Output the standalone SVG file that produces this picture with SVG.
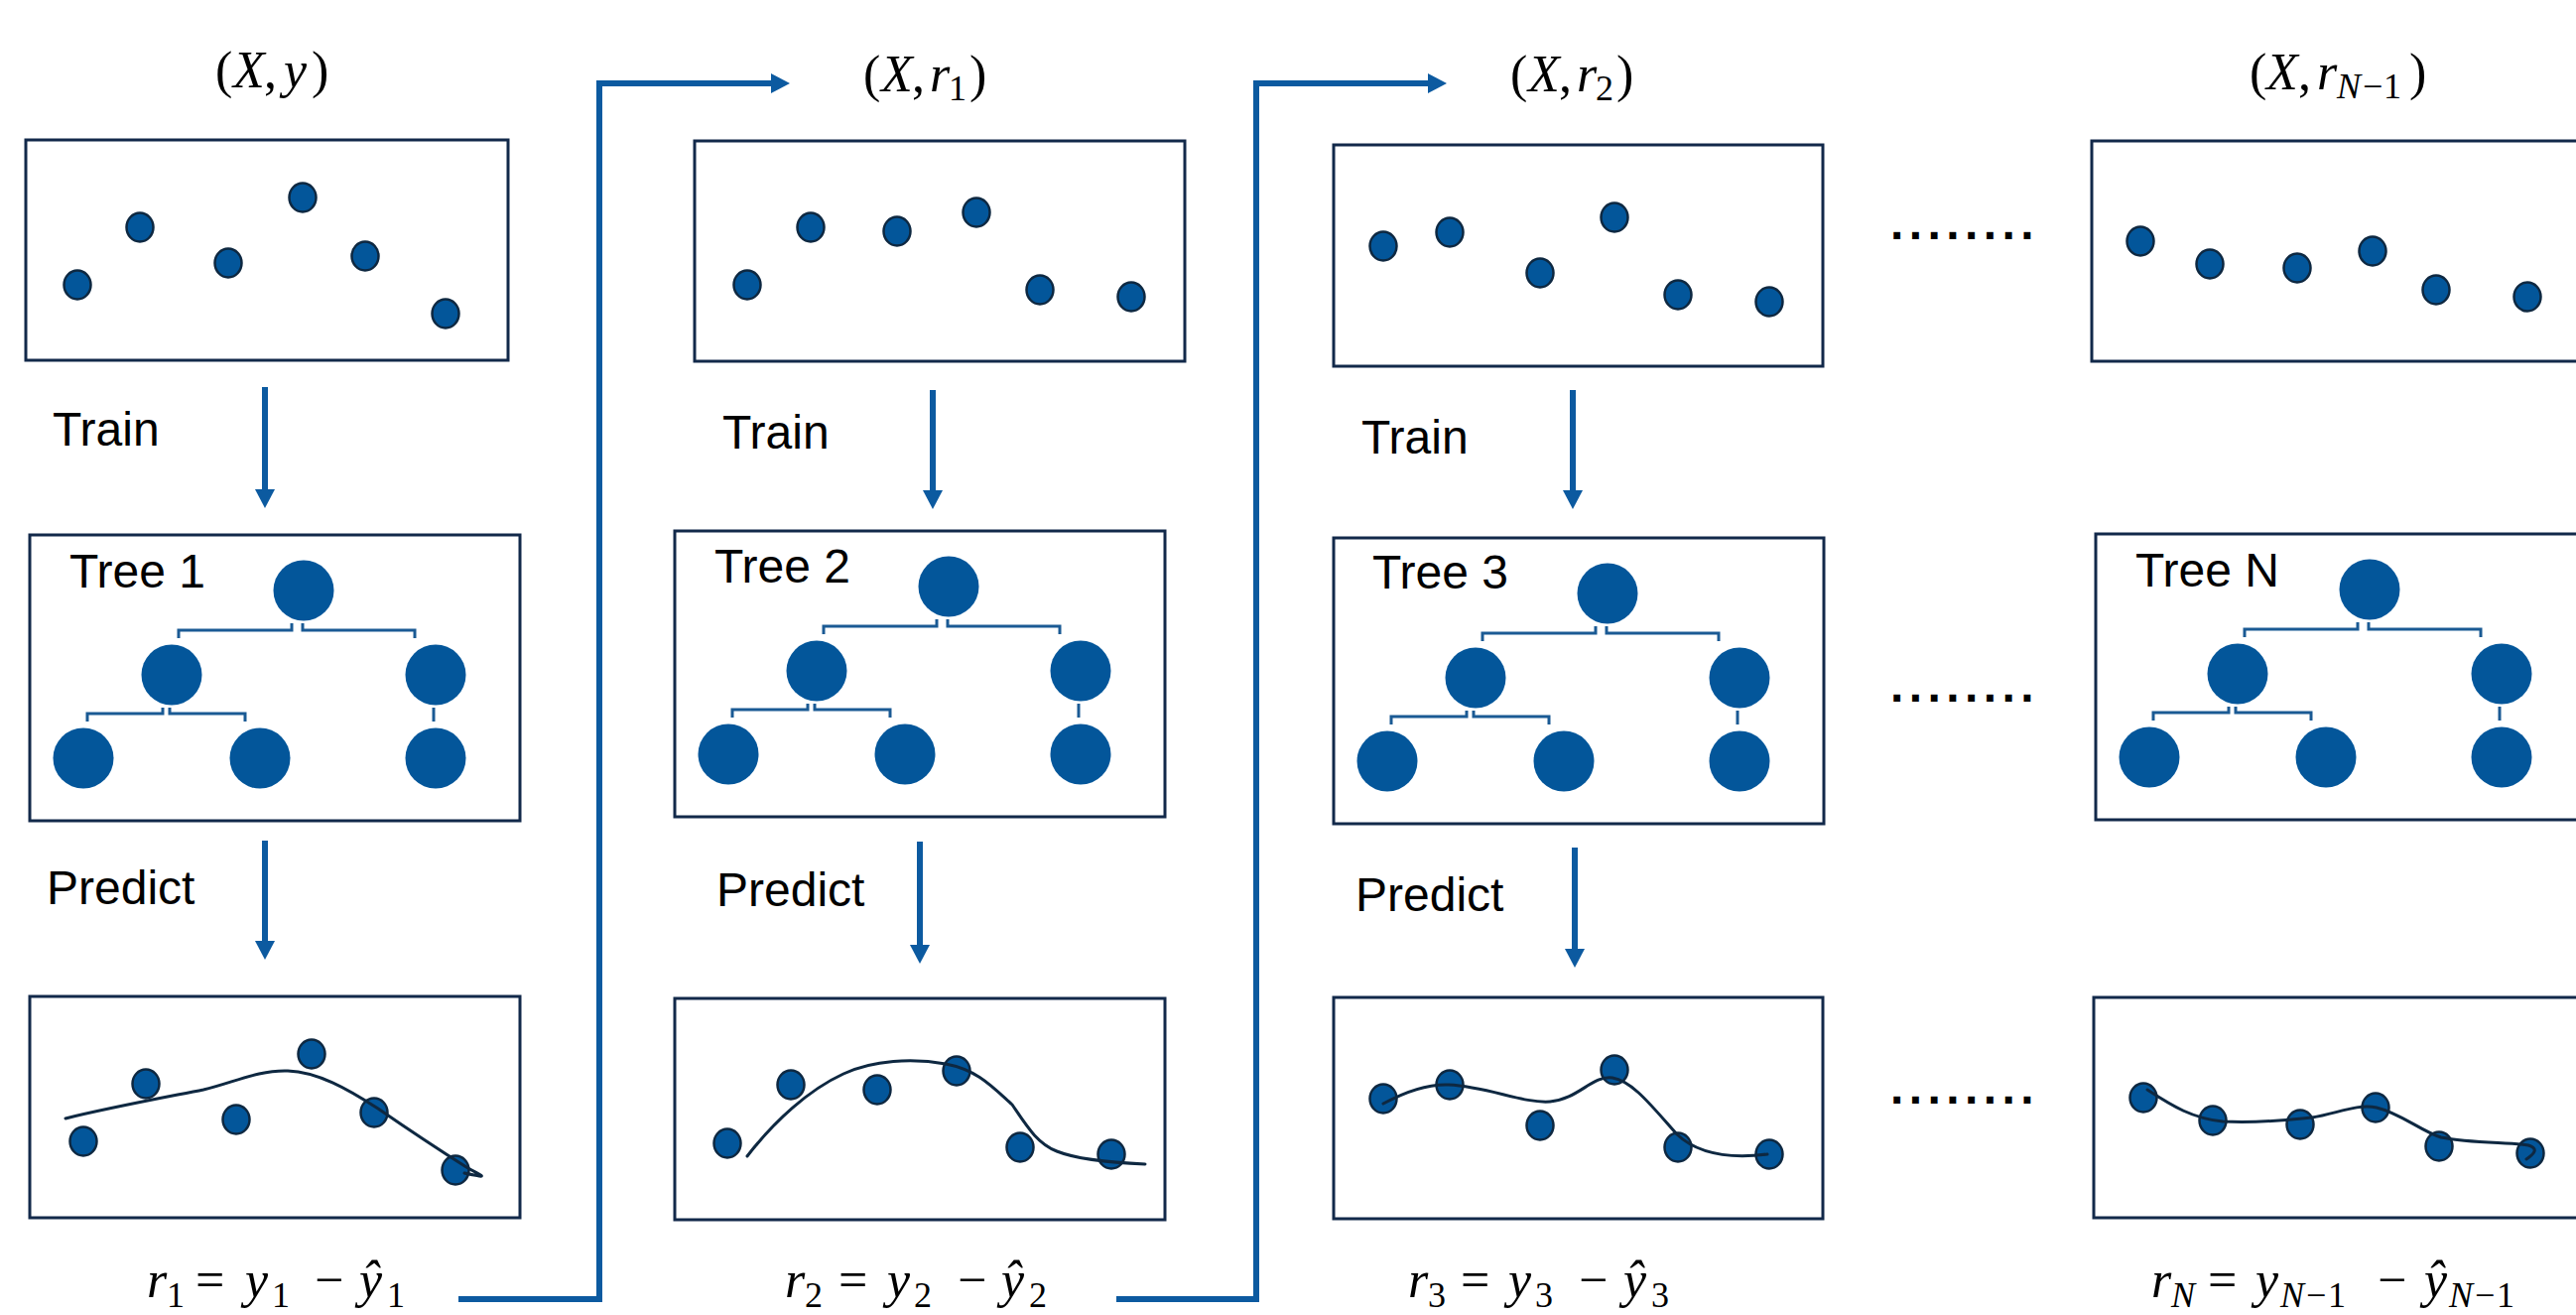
<svg xmlns="http://www.w3.org/2000/svg" xmlns:xlink="http://www.w3.org/1999/xlink" width="2596" height="1325" viewBox="0 0 2596 1325">
<style>
  .box{fill:#ffffff;stroke:#12294a;stroke-width:3}
  .pt{fill:#03569a;stroke:#0e2841;stroke-width:2.5}
  .node{fill:#03569a}
  .br{fill:none;stroke:#1a5a94;stroke-width:3}
  .fit{fill:none;stroke:#0e2841;stroke-width:3;stroke-linecap:round}
  .conn{fill:none;stroke:#0c5aa0;stroke-width:6;stroke-linejoin:miter}
  .lbl{font-family:'Liberation Sans',Arial,sans-serif;font-size:48px;fill:#000000}
  .math{font-family:'Liberation Serif','Times New Roman',serif;font-size:52px;fill:#000000}
  .i{font-style:italic}
  .sub{font-size:36px}
  .dots{font-family:'Liberation Sans',Arial,sans-serif;font-size:48px;font-weight:bold;letter-spacing:5.4px;fill:#000000}
</style>
<defs>
  <marker id="ah" markerUnits="userSpaceOnUse" markerWidth="20" markerHeight="20" refX="0" refY="10" orient="auto">
    <path d="M0,0 L19,10 L0,20 z" fill="#0c5aa0"/>
  </marker>
  <g id="treeArt">
    <rect class="box" x="0" y="0" width="494" height="288"/>
    <path class="br" d="M150,104 V96 H264 V89"/>
    <path class="br" d="M275,89 V96 H388 V104"/>
    <path class="br" d="M58,188 V180 H134 V174"/>
    <path class="br" d="M141,174 V180 H217 V188"/>
    <path class="br" d="M407,174 V188"/>
    <circle class="node" cx="276" cy="56" r="30.5"/>
    <circle class="node" cx="143" cy="141" r="30.5"/>
    <circle class="node" cx="409" cy="141" r="30.5"/>
    <circle class="node" cx="54" cy="225" r="30.5"/>
    <circle class="node" cx="232" cy="225" r="30.5"/>
    <circle class="node" cx="409" cy="225" r="30.5"/>
  </g>
</defs>

<rect width="2596" height="1325" fill="#ffffff"/>

<!-- connectors -->
<g id="connectors">
  <path class="conn" d="M267,390 V493" marker-end="url(#ah)"/>
  <path class="conn" d="M267,847 V948" marker-end="url(#ah)"/>
  <path class="conn" d="M940,393 V494" marker-end="url(#ah)"/>
  <path class="conn" d="M927,848 V952" marker-end="url(#ah)"/>
  <path class="conn" d="M1585,393 V494" marker-end="url(#ah)"/>
  <path class="conn" d="M1587,854 V956" marker-end="url(#ah)"/>
  <path class="conn" d="M462,1309 H604 V84 H777" marker-end="url(#ah)"/>
  <path class="conn" d="M1125,1309 H1266 V84 H1439" marker-end="url(#ah)"/>
</g>

<!-- headings -->
<g id="head-1"><text class="math" y="88"><tspan x="217">(</tspan><tspan class="i" x="235">X</tspan><tspan x="266">,</tspan><tspan class="i" x="286">y</tspan><tspan x="314">)</tspan></text></g>
<g id="head-2"><text class="math" y="92"><tspan x="870">(</tspan><tspan class="i" x="888">X</tspan><tspan x="919">,</tspan><tspan class="i" x="937">r</tspan><tspan class="sub" x="956" dy="9">1</tspan><tspan x="977" dy="-9">)</tspan></text></g>
<g id="head-3"><text class="math" y="92"><tspan x="1522">(</tspan><tspan class="i" x="1540">X</tspan><tspan x="1571">,</tspan><tspan class="i" x="1589">r</tspan><tspan class="sub" x="1608" dy="9">2</tspan><tspan x="1629" dy="-9">)</tspan></text></g>
<g id="head-N"><text class="math" y="90"><tspan x="2267">(</tspan><tspan class="i" x="2284">X</tspan><tspan x="2316">,</tspan><tspan class="i" x="2335">r</tspan><tspan class="sub i" x="2355" dy="9">N</tspan><tspan class="sub" x="2381">−</tspan><tspan class="sub" x="2402">1</tspan><tspan x="2428" dy="-9">)</tspan></text></g>

<!-- column 1 -->
<g id="data-1">
  <rect class="box" x="26" y="141" width="486" height="222"/>
  <ellipse class="pt" cx="78" cy="287" rx="13.5" ry="14.5"/>
  <ellipse class="pt" cx="141" cy="229" rx="13.5" ry="14.5"/>
  <ellipse class="pt" cx="230" cy="265" rx="13.5" ry="14.5"/>
  <ellipse class="pt" cx="305" cy="199" rx="13.5" ry="14.5"/>
  <ellipse class="pt" cx="368" cy="258" rx="13.5" ry="14.5"/>
  <ellipse class="pt" cx="449" cy="316" rx="13.5" ry="14.5"/>
</g>
<g id="train-1"><text class="lbl" x="53" y="449">Train</text></g>
<g id="tree-1">
  <use xlink:href="#treeArt" href="#treeArt" x="30" y="539"/>
  <text class="lbl" x="70" y="592">Tree 1</text>
</g>
<g id="predict-1"><text class="lbl" x="47" y="911">Predict</text></g>
<g id="pred-1">
  <rect class="box" x="30" y="1004" width="494" height="223"/>
  <ellipse class="pt" cx="84" cy="1150" rx="13.5" ry="14.5"/>
  <ellipse class="pt" cx="147" cy="1092" rx="13.5" ry="14.5"/>
  <ellipse class="pt" cx="238" cy="1128" rx="13.5" ry="14.5"/>
  <ellipse class="pt" cx="314" cy="1062" rx="13.5" ry="14.5"/>
  <ellipse class="pt" cx="377" cy="1121" rx="13.5" ry="14.5"/>
  <ellipse class="pt" cx="459" cy="1179" rx="13.5" ry="14.5"/>
  <path class="fit" d="M66,1127 C110,1116 170,1105 205,1098 C235,1091 260,1078 290,1079 C320,1080 350,1097 381,1117 C410,1137 440,1157 470,1176 C480,1182 490,1186 483,1185 C478,1184 472,1183 468,1182"/>
</g>
<g id="res-1"><text class="math" y="1307"><tspan class="i" x="148">r</tspan><tspan class="sub" x="168" dy="10">1</tspan><tspan x="197" dy="-10">=</tspan><tspan class="i" x="247">y</tspan><tspan class="sub" x="274" dy="10">1</tspan><tspan x="317" dy="-10">−</tspan><tspan class="i" x="362">ŷ</tspan><tspan class="sub" x="390" dy="10">1</tspan></text></g>

<!-- column 2 -->
<g id="data-2">
  <rect class="box" x="700" y="142" width="494" height="222"/>
  <ellipse class="pt" cx="753" cy="287" rx="13.5" ry="14.5"/>
  <ellipse class="pt" cx="817" cy="229" rx="13.5" ry="14.5"/>
  <ellipse class="pt" cx="904" cy="233" rx="13.5" ry="14.5"/>
  <ellipse class="pt" cx="984" cy="214" rx="13.5" ry="14.5"/>
  <ellipse class="pt" cx="1048" cy="292" rx="13.5" ry="14.5"/>
  <ellipse class="pt" cx="1140" cy="299" rx="13.5" ry="14.5"/>
</g>
<g id="train-2"><text class="lbl" x="728" y="452">Train</text></g>
<g id="tree-2">
  <use xlink:href="#treeArt" href="#treeArt" x="680" y="535"/>
  <text class="lbl" x="720" y="587">Tree 2</text>
</g>
<g id="predict-2"><text class="lbl" x="722" y="913">Predict</text></g>
<g id="pred-2">
  <rect class="box" x="680" y="1006" width="494" height="223"/>
  <ellipse class="pt" cx="733" cy="1152" rx="13.5" ry="14.5"/>
  <ellipse class="pt" cx="797" cy="1093" rx="13.5" ry="14.5"/>
  <ellipse class="pt" cx="884" cy="1098" rx="13.5" ry="14.5"/>
  <ellipse class="pt" cx="964" cy="1079" rx="13.5" ry="14.5"/>
  <ellipse class="pt" cx="1028" cy="1156" rx="13.5" ry="14.5"/>
  <ellipse class="pt" cx="1120" cy="1163" rx="13.5" ry="14.5"/>
  <path class="fit" d="M753,1165 C780,1130 815,1098 850,1082 C880,1068 920,1066 953,1072 C985,1078 1000,1095 1020,1113 C1035,1135 1045,1152 1065,1160 C1090,1170 1130,1172 1154,1173"/>
</g>
<g id="res-2"><text class="math" y="1307"><tspan class="i" x="791">r</tspan><tspan class="sub" x="811" dy="10">2</tspan><tspan x="845" dy="-10">=</tspan><tspan class="i" x="894">y</tspan><tspan class="sub" x="921" dy="10">2</tspan><tspan x="965" dy="-10">−</tspan><tspan class="i" x="1009">ŷ</tspan><tspan class="sub" x="1037" dy="10">2</tspan></text></g>

<!-- column 3 -->
<g id="data-3">
  <rect class="box" x="1344" y="146" width="493" height="223"/>
  <ellipse class="pt" cx="1394" cy="248" rx="13.5" ry="14.5"/>
  <ellipse class="pt" cx="1461" cy="234" rx="13.5" ry="14.5"/>
  <ellipse class="pt" cx="1552" cy="275" rx="13.5" ry="14.5"/>
  <ellipse class="pt" cx="1627" cy="219" rx="13.5" ry="14.5"/>
  <ellipse class="pt" cx="1691" cy="297" rx="13.5" ry="14.5"/>
  <ellipse class="pt" cx="1783" cy="304" rx="13.5" ry="14.5"/>
</g>
<g id="train-3"><text class="lbl" x="1372" y="457">Train</text></g>
<g id="tree-3">
  <use xlink:href="#treeArt" href="#treeArt" x="1344" y="542"/>
  <text class="lbl" x="1383" y="593">Tree 3</text>
</g>
<g id="predict-3"><text class="lbl" x="1366" y="918">Predict</text></g>
<g id="pred-3">
  <rect class="box" x="1344" y="1005" width="493" height="223"/>
  <ellipse class="pt" cx="1394" cy="1107" rx="13.5" ry="14.5"/>
  <ellipse class="pt" cx="1461" cy="1093" rx="13.5" ry="14.5"/>
  <ellipse class="pt" cx="1552" cy="1134" rx="13.5" ry="14.5"/>
  <ellipse class="pt" cx="1627" cy="1078" rx="13.5" ry="14.5"/>
  <ellipse class="pt" cx="1691" cy="1156" rx="13.5" ry="14.5"/>
  <ellipse class="pt" cx="1783" cy="1163" rx="13.5" ry="14.5"/>
  <path class="fit" d="M1394,1112 C1420,1098 1440,1092 1460,1093 C1500,1095 1535,1112 1562,1110 C1590,1108 1605,1083 1625,1086 C1645,1089 1665,1115 1690,1143 C1710,1162 1740,1168 1781,1163"/>
</g>
<g id="res-3"><text class="math" y="1307"><tspan class="i" x="1419">r</tspan><tspan class="sub" x="1439" dy="10">3</tspan><tspan x="1472" dy="-10">=</tspan><tspan class="i" x="1520">y</tspan><tspan class="sub" x="1547" dy="10">3</tspan><tspan x="1591" dy="-10">−</tspan><tspan class="i" x="1636">ŷ</tspan><tspan class="sub" x="1664" dy="10">3</tspan></text></g>

<!-- ellipses between column 3 and N -->
<g id="gap-dots">
  <text class="dots" x="1905" y="241">........</text>
  <text class="dots" x="1905" y="707">........</text>
  <text class="dots" x="1905" y="1112">........</text>
</g>

<!-- column N -->
<g id="data-N">
  <rect class="box" x="2108" y="142" width="494" height="222"/>
  <ellipse class="pt" cx="2157" cy="243" rx="13.5" ry="14.5"/>
  <ellipse class="pt" cx="2227" cy="266" rx="13.5" ry="14.5"/>
  <ellipse class="pt" cx="2315" cy="270" rx="13.5" ry="14.5"/>
  <ellipse class="pt" cx="2391" cy="253" rx="13.5" ry="14.5"/>
  <ellipse class="pt" cx="2455" cy="292" rx="13.5" ry="14.5"/>
  <ellipse class="pt" cx="2547" cy="299" rx="13.5" ry="14.5"/>
</g>
<g id="tree-N">
  <use xlink:href="#treeArt" href="#treeArt" x="2112" y="538"/>
  <text class="lbl" x="2152" y="591">Tree N</text>
</g>
<g id="pred-N">
  <rect class="box" x="2110" y="1005" width="494" height="222"/>
  <ellipse class="pt" cx="2160" cy="1106" rx="13.5" ry="14.5"/>
  <ellipse class="pt" cx="2230" cy="1129" rx="13.5" ry="14.5"/>
  <ellipse class="pt" cx="2318" cy="1133" rx="13.5" ry="14.5"/>
  <ellipse class="pt" cx="2394" cy="1116" rx="13.5" ry="14.5"/>
  <ellipse class="pt" cx="2458" cy="1155" rx="13.5" ry="14.5"/>
  <ellipse class="pt" cx="2550" cy="1162" rx="13.5" ry="14.5"/>
  <path class="fit" d="M2164,1098 C2190,1115 2210,1127 2240,1130 C2280,1132 2310,1128 2330,1126 C2355,1122 2375,1112 2395,1116 C2420,1122 2440,1140 2460,1146 C2490,1152 2530,1151 2548,1154 C2558,1157 2555,1162 2546,1168"/>
</g>
<g id="res-N"><text class="math" y="1307"><tspan class="i" x="2168">r</tspan><tspan class="sub i" x="2188" dy="10">N</tspan><tspan x="2225" dy="-10">=</tspan><tspan class="i" x="2273">y</tspan><tspan class="sub i" x="2298" dy="10">N</tspan><tspan class="sub" x="2324">−</tspan><tspan class="sub" x="2346">1</tspan><tspan x="2396" dy="-10">−</tspan><tspan class="i" x="2443">ŷ</tspan><tspan class="sub i" x="2468" dy="10">N</tspan><tspan class="sub" x="2494">−</tspan><tspan class="sub" x="2516">1</tspan></text></g>
</svg>
